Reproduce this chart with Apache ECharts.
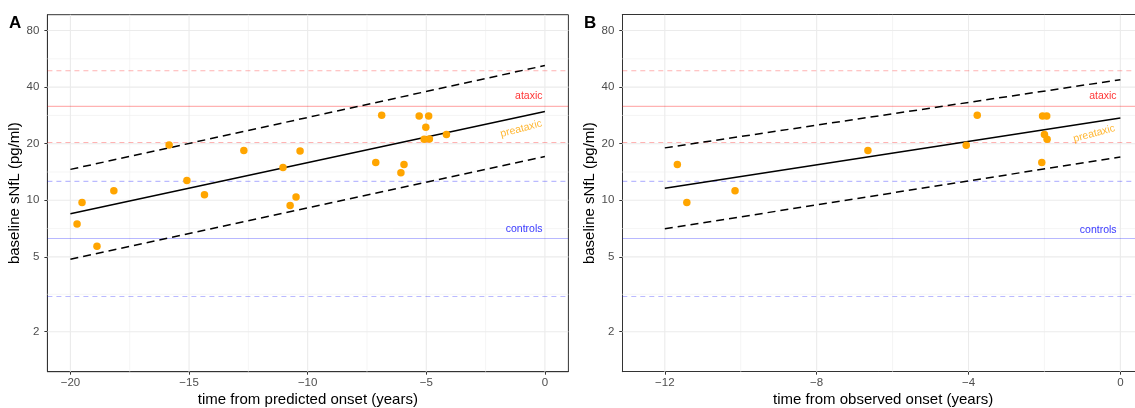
<!DOCTYPE html>
<html>
<head>
<meta charset="utf-8">
<script src="https://cdn.jsdelivr.net/npm/echarts@6/dist/echarts.min.js"></script>
<style>
html,body{margin:0;padding:0;background:#fff;}
#chart{width:1135px;height:408px;}
</style>
</head>
<body>
<div id="chart"></div>
<script>
// ---------- data ----------
const predYears = [-19.72,-19.51,-18.88,-18.17,-15.84,-15.09,-14.35,-12.69,-11.04,-10.74,-10.49,-10.32,-7.13,-6.88,-6.07,-5.94,-5.30,-5.09,-5.02,-4.90,-4.87,-4.15];
const predSnfl  = [7.49,9.72,5.70,11.25,19.7,12.75,10.7,18.4,14.93,9.37,10.4,18.3,15.9,28.3,14.0,15.5,28.1,21.1,24.5,28.1,21.2,22.4];

const obsYears = [-11.67,-11.42,-10.15,-6.65,-4.06,-3.77,-2.07,-2.05,-2.00,-1.94,-1.93];
const obsSnfl  = [15.5,9.72,11.25,18.4,19.6,28.3,15.9,28.1,22.4,28.1,21.1];

const fitAx = [-20, 0];
const fitAmid = [8.47, 29.7];
const fitAhi = [14.6, 52.1];
const fitAlo = [4.86, 17.1];

const fitBx = [-12, 0];
const fitBmid = [11.58, 27.4];
const fitBhi = [19.0, 43.8];
const fitBlo = [7.05, 17.0];

const ataxicMean = 31.6, ataxicBand = [20.3, 48.9];
const controlsMean = 6.26, controlsBand = [3.08, 12.6];

const yBreaks = [2, 5, 10, 20, 40, 80];
const yMinor = [3.162, 7.071, 14.14, 28.28, 56.57];
const xBreaksA = [-20, -15, -10, -5, 0];
const xMinorA = [-17.5, -12.5, -7.5, -2.5];
const xBreaksB = [-12, -8, -4, 0];
const xMinorB = [-10, -6, -2];

const labelsA = [
  {text:'ataxic', x:-0.1, y:35.7, color:'#FF0000', rot:0, pos:'left'},
  {text:'preataxic', x:-1.0, y:24.0, color:'#FFA500', rot:15, pos:'inside'},
  {text:'controls', x:-0.1, y:7.05, color:'#0000FF', rot:0, pos:'left'}
];
const labelsB = [
  {text:'ataxic', x:-0.1, y:35.7, color:'#FF0000', rot:0, pos:'left'},
  {text:'preataxic', x:-0.69, y:22.6, color:'#FFA500', rot:15, pos:'inside'},
  {text:'controls', x:-0.1, y:6.95, color:'#0000FF', rot:0, pos:'left'}
];

const Y_MIN = 1.225, Y_MAX = 97.1;
const XA = [-20.97, 0.99];
const XB = [-13.12, 0.62];

// ---------- helpers ----------
const FONT = 'Liberation Sans, Arial, sans-serif';
const fmtNum = v => (v < 0 ? '\u2212' + Math.abs(v) : String(v));

function seg(i, pts, color, width, type, z) {
  return {
    type: 'line', xAxisIndex: i, yAxisIndex: i, z: z, silent: true, animation: false,
    data: pts, symbol: 'none', showSymbol: false,
    lineStyle: {color: color, width: width, type: type}
  };
}
function hLine(i, v, xr, color, width, type, z) { return seg(i, [[xr[0], v], [xr[1], v]], color, width, type, z); }
function vLine(i, v, color, width, z) { return seg(i, [[v, Y_MIN], [v, Y_MAX]], color, width, 'solid', z); }

function gridLines(i, xr, xMaj, xMin) {
  return [].concat(
    yMinor.map(v => hLine(i, v, xr, '#F0F0F0', 0.7, 'solid', 0)),
    xMin.map(v => vLine(i, v, '#F0F0F0', 0.7, 0)),
    yBreaks.map(v => hLine(i, v, xr, '#EBEBEB', 1.1, 'solid', 0)),
    xMaj.map(v => vLine(i, v, '#EBEBEB', 1.1, 0))
  );
}

function refLines(i, xr) {
  return [
    hLine(i, ataxicBand[0], xr, 'rgba(255,0,0,0.3)', 1.1, [5,4], 1),
    hLine(i, ataxicBand[1], xr, 'rgba(255,0,0,0.3)', 1.1, [5,4], 1),
    hLine(i, ataxicMean, xr, 'rgba(255,0,0,0.3)', 1.1, 'solid', 1),
    hLine(i, controlsBand[0], xr, 'rgba(0,0,255,0.27)', 1.1, [5,4], 1),
    hLine(i, controlsBand[1], xr, 'rgba(0,0,255,0.27)', 1.1, [5,4], 1),
    hLine(i, controlsMean, xr, 'rgba(0,0,255,0.28)', 1.1, 'solid', 1)
  ];
}

function fitLine(i, xs, ys, dashed) {
  return seg(i, xs.map((x, k) => [x, ys[k]]), '#000', 1.5, dashed ? [8,5] : 'solid', 2);
}

function points(i, xs, ys) {
  return {
    type: 'scatter', xAxisIndex: i, yAxisIndex: i, z: 3, animation: false,
    data: xs.map((x, k) => [x, ys[k]]), symbolSize: 7.5,
    itemStyle: {color: '#FFA500', opacity: 1}
  };
}

function textLabels(i, labs) {
  return labs.map(l => ({
    type: 'scatter', xAxisIndex: i, yAxisIndex: i, z: 4, silent: true, animation: false,
    symbolSize: 0, data: [[l.x, l.y]],
    label: {show: true, position: l.pos, distance: 0, formatter: l.text, color: l.color,
            fontSize: 10.5, fontFamily: FONT, rotate: l.rot}
  }));
}

function xAxis(i, xr, breaks, name) {
  return {
    type: 'value', gridIndex: i, min: xr[0], max: xr[1], position: 'bottom',
    name: name, nameLocation: 'middle', nameGap: 21, nameMoveOverlap: false,
    nameTextStyle: {color: '#000', fontSize: 15, fontFamily: FONT},
    axisLine: {show: true, onZero: false, lineStyle: {color: '#333', width: 1}},
    axisTick: {show: true, length: 3, lineStyle: {color: '#333'}, customValues: breaks},
    axisLabel: {color: '#4D4D4D', fontSize: 11.5, fontFamily: FONT, margin: 5,
                customValues: breaks, formatter: fmtNum},
    splitLine: {show: false}
  };
}

function yAxis(i) {
  return {
    type: 'log', logBase: 10, gridIndex: i, min: Y_MIN, max: Y_MAX, position: 'left',
    name: 'baseline sNfL (pg/ml)', nameLocation: 'middle', nameGap: 25, nameRotate: 90,
    nameTextStyle: {color: '#000', fontSize: 15, fontFamily: FONT},
    axisLine: {show: true, onZero: false, lineStyle: {color: '#333', width: 1}},
    axisTick: {show: true, length: 3, lineStyle: {color: '#333'}, customValues: yBreaks},
    axisLabel: {color: '#4D4D4D', fontSize: 11.5, fontFamily: FONT, margin: 8,
                customValues: yBreaks, formatter: v => String(v)},
    splitLine: {show: false}, minorSplitLine: {show: false}
  };
}

// top border of panel B (its right edge lies outside the picture)
const topBorderB = {
  type: 'value', gridIndex: 1, min: XB[0], max: XB[1], position: 'top',
  axisLine: {show: true, onZero: false, lineStyle: {color: '#333', width: 1}},
  axisTick: {show: false}, axisLabel: {show: false}, splitLine: {show: false}
};

const chart = echarts.init(document.getElementById('chart'), null, {renderer: 'canvas'});
const option = {
  backgroundColor: '#fff',
  animation: false,
  title: [
    {text: 'A', left: 4, top: 10, textStyle: {fontSize: 17, fontWeight: 'bold', color: '#000', fontFamily: FONT}},
    {text: 'B', left: 579, top: 10, textStyle: {fontSize: 17, fontWeight: 'bold', color: '#000', fontFamily: FONT}}
  ],
  grid: [
    {left: 47.4, right: 1135 - 568.4, top: 14.7, bottom: 408 - 371.7, outerBoundsMode: 'none', containLabel: false,
     show: true, borderColor: '#333', borderWidth: 1, backgroundColor: 'transparent'},
    {left: 622.3, right: -8.9, top: 14.7, bottom: 408 - 371.7, outerBoundsMode: 'none', containLabel: false, show: false}
  ],
  xAxis: [
    xAxis(0, XA, xBreaksA, 'time from predicted onset (years)'),
    xAxis(1, XB, xBreaksB, 'time from observed onset (years)'),
    topBorderB
  ],
  yAxis: [yAxis(0), yAxis(1)],
  series: [].concat(
    gridLines(0, XA, xBreaksA, xMinorA), refLines(0, XA),
    [fitLine(0, fitAx, fitAmid, false), fitLine(0, fitAx, fitAhi, true), fitLine(0, fitAx, fitAlo, true),
     points(0, predYears, predSnfl)],
    textLabels(0, labelsA),
    gridLines(1, XB, xBreaksB, xMinorB), refLines(1, XB),
    [fitLine(1, fitBx, fitBmid, false), fitLine(1, fitBx, fitBhi, true), fitLine(1, fitBx, fitBlo, true),
     points(1, obsYears, obsSnfl)],
    textLabels(1, labelsB)
  )
};
chart.setOption(option);
</script>
</body>
</html>
